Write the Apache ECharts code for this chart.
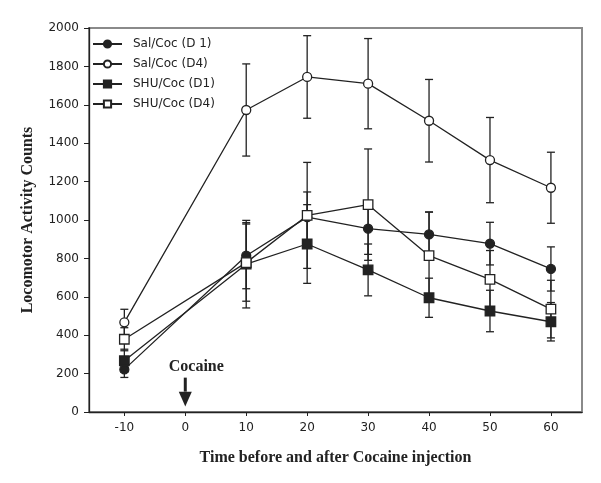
<!DOCTYPE html>
<html><head><meta charset="utf-8">
<script src="https://cdn.jsdelivr.net/npm/echarts@6/dist/echarts.min.js"></script>
<style>html,body{margin:0;padding:0;background:#fff}#c{width:601px;height:483px}</style>
</head><body><div id="c"></div>
<script>
const times = [-10, 10, 20, 30, 40, 50, 60];
const xTicks = [-10, 0, 10, 20, 30, 40, 50, 60];
const seriesNames = ['Sal/Coc (D 1)', 'Sal/Coc (D4)', 'SHU/Coc (D1)', 'SHU/Coc (D4)'];
const salD1 = [222, 814, 1015, 955, 925, 877, 745];
const salD1Err = [42, 172, 131, 134, 117, 111, 115];
const salD4 = [467, 1573, 1745, 1710, 1517, 1312, 1168];
const salD4Err = [68, 240, 215, 235, 215, 222, 185];
const shuD1 = [267, 770, 875, 740, 595, 526, 470];
const shuD1Err = [60, 228, 205, 135, 102, 108, 100];
const shuD4 = [379, 778, 1024, 1080, 814, 691, 536];
const shuD4Err = [60, 201, 276, 290, 227, 150, 150];
const cocaineLabel = 'Cocaine';
const cocaineTime = 0;

const INK = '#222';
function pairs(vals) { return times.map((t, i) => [t, vals[i]]); }
function errData(vals, errs) { return times.map((t, i) => [t, vals[i] - errs[i], vals[i] + errs[i]]); }

function errRender(params, api) {
  const x = api.value(0), lo = api.value(1), hi = api.value(2);
  const a = api.coord([x, lo]), b = api.coord([x, hi]);
  const w = 4;
  const st = { stroke: INK, lineWidth: 1.3 };
  return { type: 'group', children: [
    { type: 'line', shape: { x1: a[0], y1: a[1], x2: b[0], y2: b[1] }, style: st },
    { type: 'line', shape: { x1: a[0] - w, y1: a[1], x2: a[0] + w, y2: a[1] }, style: st },
    { type: 'line', shape: { x1: b[0] - w, y1: b[1], x2: b[0] + w, y2: b[1] }, style: st }
  ]};
}

function lineSeries(name, vals, symbol, filled) {
  return {
    name: name, type: 'line', data: pairs(vals), symbol: symbol,
    symbolSize: symbol === 'circle' ? 9 : 9.5,
    showAllSymbol: true, z: 5,
    lineStyle: { color: INK, width: 1.3 },
    itemStyle: { color: filled ? INK : '#fff', borderColor: INK, borderWidth: 1.3 },
    emphasis: { disabled: true }
  };
}
function errSeries(vals, errs) {
  return { type: 'custom', data: errData(vals, errs), renderItem: errRender,
    encode: { x: 0, y: [1, 2] }, z: 2, silent: true };
}

const chart = echarts.init(document.getElementById('c'), null, { renderer: 'canvas' });
chart.setOption({
  animation: false,
  backgroundColor: '#fff',
  grid: { left: 89, right: 19, top: 28, bottom: 71, show: true, borderColor: '#8a8a8a', borderWidth: 2, backgroundColor: 'transparent' },
  legend: {
    data: seriesNames, orient: 'vertical', left: 87, top: 33,
    itemWidth: 29, itemHeight: 9, itemGap: 8,
    textStyle: { fontFamily: 'DejaVu Sans', fontSize: 12, color: INK, padding: [0, 0, 0, 6] },
    selectedMode: false
  },
  xAxis: {
    type: 'value', min: -15.8, max: 65.1,
    name: 'Time before and after Cocaine injection', nameLocation: 'middle', nameGap: 38,
    nameTextStyle: { fontFamily: 'Liberation Serif', fontWeight: 'bold', fontSize: 16, color: INK },
    axisLine: { show: true, onZero: false, lineStyle: { color: INK, width: 1.3 } },
    axisTick: { show: true, customValues: xTicks, length: 4, lineStyle: { color: INK } },
    axisLabel: { customValues: xTicks, margin: 10, fontFamily: 'DejaVu Sans', fontSize: 12, color: INK,
      formatter: v => String(v) },
    splitLine: { show: false }
  },
  yAxis: {
    type: 'value', min: 0, max: 2000, interval: 200,
    name: 'Locomotor Activity Counts', nameLocation: 'middle', nameGap: 53,
    nameTextStyle: { fontFamily: 'Liberation Serif', fontWeight: 'bold', fontSize: 16, color: INK },
    axisLine: { show: true, onZero: false, lineStyle: { color: INK, width: 1.3 } },
    axisTick: { show: true, length: 5, lineStyle: { color: INK } },
    axisLabel: { margin: 10, fontFamily: 'DejaVu Sans', fontSize: 12, color: INK,
      formatter: v => String(v) },
    splitLine: { show: false }
  },
  series: [
    errSeries(salD1, salD1Err), errSeries(salD4, salD4Err),
    errSeries(shuD1, shuD1Err), errSeries(shuD4, shuD4Err),
    lineSeries(seriesNames[0], salD1, 'circle', true),
    lineSeries(seriesNames[1], salD4, 'circle', false),
    lineSeries(seriesNames[2], shuD1, 'rect', true),
    lineSeries(seriesNames[3], shuD4, 'rect', false),
    {
      type: 'custom', data: [[cocaineTime]], encode: { x: 0 }, silent: true, z: 6,
      renderItem: function (params, api) {
        const x = api.value(0);
        const t = api.coord([x, 234]);
        const top = api.coord([x, 179]);
        const hs = api.coord([x, 106]);
        const tip = api.coord([x, 28]);
        return { type: 'group', children: [
          { type: 'text', style: { text: cocaineLabel, x: t[0] + 11, y: t[1], align: 'center', verticalAlign: 'middle',
            font: 'bold 16px "Liberation Serif"', fill: INK } },
          { type: 'line', shape: { x1: top[0], y1: top[1], x2: hs[0], y2: hs[1] }, style: { stroke: INK, lineWidth: 3 } },
          { type: 'polygon', shape: { points: [[hs[0] - 6.5, hs[1]], [hs[0] + 6.5, hs[1]], [tip[0], tip[1]]] }, style: { fill: INK } }
        ]};
      }
    }
  ]
});
</script></body></html>
